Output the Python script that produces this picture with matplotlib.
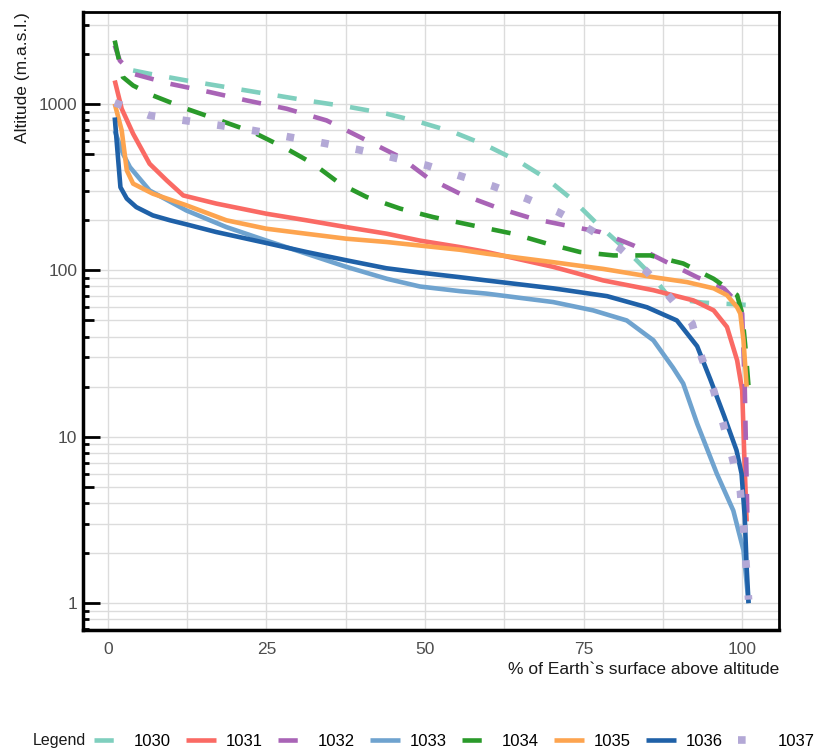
import matplotlib
matplotlib.use("Agg")
import matplotlib.pyplot as plt
from matplotlib.ticker import FixedLocator, MultipleLocator, NullFormatter

plt.rcParams['font.family'] = ['Liberation Sans', 'DejaVu Sans']

# series names (legend labels)
names = ['1030', '1031', '1032', '1033', '1034', '1035', '1036', '1037']

# % of surface above altitude (x) and altitude in m.a.s.l. (y)
x_1030 = [4.0, 6.6, 12.4, 18.7, 25.0, 31.3, 37.6, 44.0, 49.2, 54.5, 59.7, 65.0, 69.2, 73.4,
          77.1, 81.8, 86.0, 88.6, 93.8, 100.7]
y_1030 = [1590, 1518, 1384, 1262, 1151, 1050, 966, 873, 778, 677, 563, 447, 355, 263,
          191, 132, 91, 68, 64, 62]

x_1031 = [1.1, 2.2, 4.0, 6.6, 9.3, 11.9, 17.1, 25.0, 31.3, 37.6, 44.0, 49.2, 55.5, 59.7,
          70.2, 78.1, 86.0, 92.3, 95.5, 97.6, 99.2, 100.0, 100.3, 100.7]
y_1031 = [1384, 936, 662, 437, 347, 282, 252, 219, 200, 182, 166, 151, 138, 129,
          105, 87, 76, 66, 57.5, 45.7, 28.8, 19, 8.3, 3.1]

x_1032 = [1.1, 1.9, 4.0, 9.8, 16.1, 21.9, 28.2, 34.5, 40.8, 46.1, 50.3, 55.5, 61.8, 67.1,
          72.3, 77.6, 82.9, 88.1, 92.9, 97.1, 98.9, 100.0, 100.4, 100.8]
y_1032 = [2245, 1824, 1518, 1322, 1178, 1050, 936, 796, 604, 479, 363, 289, 235, 204,
          186, 170, 141, 112, 91, 78, 66, 55, 20, 3.5]

x_1033 = [1.1, 2.4, 3.5, 6.6, 12.4, 18.7, 25.0, 31.3, 37.6, 44.0, 49.2, 55.5, 59.7, 70.2,
          76.5, 81.8, 86.0, 89.1, 90.7, 92.9, 96.0, 98.6, 100.2, 101.0]
y_1033 = [690, 502, 417, 302, 229, 182, 151, 126, 105, 89, 80, 75, 72.5, 64.5,
          57.5, 50, 38, 26, 20.9, 12, 6.0, 3.6, 2.08, 1.0]

x_1034 = [1.1, 1.9, 2.4, 4.0, 7.1, 12.4, 17.7, 22.9, 28.2, 32.4, 36.6, 40.8, 46.1, 51.3,
          57.6, 63.9, 69.2, 74.4, 79.7, 85.5, 90.7, 95.5, 99.2, 100.0, 100.5, 101.0]
y_1034 = [2405, 1742, 1449, 1291, 1125, 936, 796, 677, 538, 437, 332, 276, 235, 209,
          186, 166, 145, 129, 123, 123, 110, 89, 71, 55, 34.6, 20]

x_1035 = [1.1, 2.2, 3.0, 4.0, 7.1, 12.4, 18.7, 25.0, 31.3, 37.6, 44.0, 49.2, 55.5, 59.7,
          70.2, 78.1, 86.0, 91.3, 95.5, 97.6, 99.2, 99.7, 100.2, 100.7]
y_1035 = [1003, 693, 399, 332, 289, 246, 200, 178, 166, 155, 148, 141, 133, 126,
          112, 102, 91, 85, 78, 71, 60, 55, 38, 20]

x_1036 = [1.1, 2.0, 3.0, 4.5, 7.1, 9.8, 12.4, 17.1, 25.0, 31.3, 37.6, 43.9, 49.2, 55.5,
          59.7, 70.2, 78.7, 85.0, 89.7, 92.9, 95.0, 97.2, 99.1, 99.9, 100.4, 100.7, 101.0]
y_1036 = [830, 316, 270, 240, 214, 200, 189, 170, 146, 129, 115, 103, 97, 91,
          87, 78, 70, 60, 50, 35, 22, 13.2, 8.3, 6.0, 3.3, 1.65, 1.0]

x_1037 = [1.1, 6.6, 12.1, 17.7, 22.9, 28.7, 34.0, 39.5, 44.7, 50.3, 55.3, 60.8, 66.0,
          71.0, 76.0, 80.8, 85.0, 88.6, 92.1, 93.6, 95.5, 97.0, 98.4, 99.7, 100.2, 101.0]
y_1037 = [1017, 853, 796, 743, 693, 632, 582, 531, 479, 427, 372, 320, 270,
          224, 176, 135, 98, 69, 48, 30, 19, 12, 7.6, 4.77, 2.87, 1.05]

xs = [x_1030, x_1031, x_1032, x_1033, x_1034, x_1035, x_1036, x_1037]
ys = [y_1030, y_1031, y_1032, y_1033, y_1034, y_1035, y_1036, y_1037]

colors = ['#7fcfbe', '#fa6a64', '#a964b6', '#6fa3cf', '#2a9a2a', '#fda44f', '#1f61a8', '#b3a8d6']
dash = (0, (4.2, 3.8))
dot = (0, (1, 3.6))
styles = [dash, '-', dash, '-', dash, '-', '-', dot]
widths = [3.3, 3.3, 3.3, 3.3, 3.3, 3.3, 3.3, 5.5]

fig = plt.figure(figsize=(8.26, 7.51), dpi=100)
ax = fig.add_axes([83 / 826, 1 - 630 / 751, (779 - 83) / 826, (630 - 12) / 751])

for x, y, c, ls, lw, n in zip(xs, ys, colors, styles, widths, names):
    ax.plot(x, y, color=c, linestyle=ls, linewidth=lw, label=n,
            solid_capstyle='butt', dash_capstyle='butt', solid_joinstyle='round')

ax.set_yscale('log')
ax.set_xlim(-3.9, 105.8)
ax.set_ylim(0.69, 3570)

ax.xaxis.set_major_locator(FixedLocator([0, 25, 50, 75, 100]))
ax.xaxis.set_minor_locator(MultipleLocator(12.5))
ax.set_xticklabels(['0', '25', '50', '75', '100'])
ax.yaxis.set_major_locator(FixedLocator([1, 10, 100, 1000]))
ax.set_yticklabels(['1', '10', '100', '1000'])
minors = [m * 10 ** e for e in range(-1, 4) for m in range(2, 10)]
ax.yaxis.set_minor_locator(FixedLocator(minors))
ax.yaxis.set_minor_formatter(NullFormatter())

ax.grid(True, which='both', color='#dcdcdc', linewidth=1)
ax.set_axisbelow(True)

ax.tick_params(axis='x', which='both', length=0, pad=8.5, labelsize=12.5, labelcolor='#4d4d4d')
ax.tick_params(axis='y', which='major', direction='in', length=12, width=2,
               labelsize=12.5, labelcolor='#4d4d4d', pad=4)
ax.tick_params(axis='y', which='minor', direction='in', length=4, width=2)
for t, v in zip(ax.yaxis.get_minor_ticks(), minors):
    if str(v).startswith('5'):
        t.tick1line.set_markersize(8)

for s in ax.spines.values():
    s.set_color('black')
    s.set_linewidth(2)
ax.spines['left'].set_linewidth(2.5)
ax.spines['bottom'].set_linewidth(2.5)

ax.set_xlabel('% of Earth`s surface above altitude', fontsize=12.5, color='#1a1a1a',
              loc='right', labelpad=4)
ax.set_ylabel('Altitude (m.a.s.l.)', fontsize=12.5, color='#1a1a1a', loc='top', labelpad=6)

fig.text(33 / 826, 1 - 741 / 751, 'Legend', fontsize=11.5, color='#1a1a1a', va='center')
fig.legend(loc='center left', bbox_to_anchor=(94 / 826, 1 - 741 / 751), ncol=8,
           frameon=False, fontsize=12, handlelength=1.8, handletextpad=0.6,
           columnspacing=0.9, borderaxespad=0, borderpad=0)

fig.savefig('out.png', dpi=100)
